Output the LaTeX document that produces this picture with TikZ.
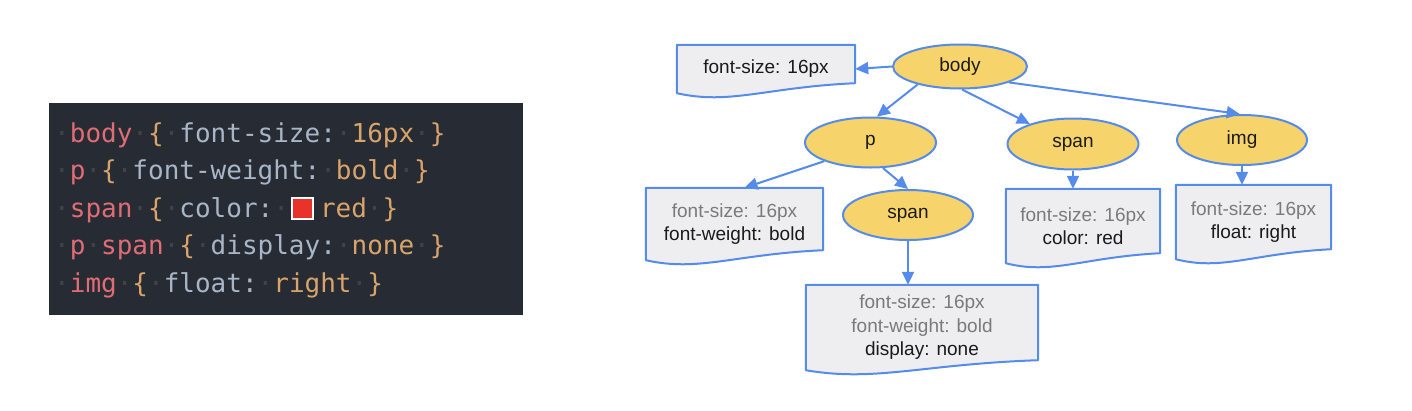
\documentclass[tikz,border=0pt]{standalone}
\usepackage{fontspec}
\setmainfont{Liberation Sans}
\newfontfamily\codefont{DejaVu Sans Mono}
\usetikzlibrary{arrows.meta,calc,backgrounds,shapes.geometric}
\definecolor{treeblue}{HTML}{558BEB}
\definecolor{nodefill}{HTML}{F7D46B}
\definecolor{boxfill}{HTML}{EEEEF0}
\definecolor{inherit}{HTML}{7A7A7A}
\definecolor{owntext}{HTML}{1A1A1A}
\definecolor{codebg}{HTML}{272B33}
\definecolor{selcol}{HTML}{E06C75}
\definecolor{propcol}{HTML}{A9B6C8}
\definecolor{valcol}{HTML}{D9A46A}
\definecolor{dotcol}{HTML}{3E444F}
\definecolor{swatchred}{HTML}{E8322A}
\newcommand\csel[1]{\textcolor{selcol}{#1}}
\newcommand\cprop[1]{\textcolor{propcol}{#1}}
\newcommand\cval[1]{\textcolor{valcol}{#1}}
\newcommand\wsdot{\textcolor{dotcol}{·}}
\newcommand\swatch{\hspace{2pt}\raisebox{-1pt}{\setlength\fboxsep{0pt}\setlength\fboxrule{2pt}%
  \fcolorbox{white}{swatchred}{\makebox[19pt]{\rule{0pt}{19pt}}}}\hspace{6pt}}
\newcommand\inh[1]{\textcolor{inherit}{#1}}
\tikzset{
  elnode/.style={ellipse, draw=treeblue, line width=2pt, fill=nodefill, inner sep=0pt,
    text=owntext, font=\fontsize{19}{23}\selectfont},
  docbox/.style={inner sep=0pt, align=center, text=owntext,
    font=\fontsize{19}{23.5}\selectfont},
  docline/.style={draw=treeblue, line width=2pt, fill=boxfill, line join=round},
  arr/.style={-{Triangle[length=13pt,width=12pt]}, line width=2pt, draw=treeblue},
  codeline/.style={anchor=base west, inner sep=0pt, font=\codefont\fontsize{26}{30}\selectfont}
}
\begin{document}
\begin{tikzpicture}[x=1pt,y=-1pt]
  \useasboundingbox (0,0) rectangle (1412,410);
  % css source
  \node[fill=codebg, minimum width=474pt, minimum height=212pt, inner sep=0pt] (code) at (286,209) {};
  \node[codeline] (line1) at (54,142) {\wsdot\csel{body}\wsdot\cval{\{}\wsdot\cprop{font-size:}\wsdot\cval{16px}\wsdot\cval{\}}};
  \node[codeline] (line2) at (54,179.5) {\wsdot\csel{p}\wsdot\cval{\{}\wsdot\cprop{font-weight:}\wsdot\cval{bold}\wsdot\cval{\}}};
  \node[codeline] (line3) at (54,217) {\wsdot\csel{span}\wsdot\cval{\{}\wsdot\cprop{color:}\wsdot\swatch\cval{red}\wsdot\cval{\}}};
  \node[codeline] (line4) at (54,254.5) {\wsdot\csel{p}\wsdot\csel{span}\wsdot\cval{\{}\wsdot\cprop{display:}\wsdot\cval{none}\wsdot\cval{\}}};
  \node[codeline] (line5) at (54,292) {\wsdot\csel{img}\wsdot\cval{\{}\wsdot\cprop{float:}\wsdot\cval{right}\wsdot\cval{\}}};

  % element tree
  \node[elnode, minimum width=134pt, minimum height=44pt] (body) at (960,66.5) {body};
  \node[elnode, minimum width=131pt, minimum height=50pt] (p) at (870.5,142.5) {p};
  \node[elnode, minimum width=130pt, minimum height=50pt] (pspan) at (908,215) {span};
  \node[elnode, minimum width=131pt, minimum height=51pt] (span) at (1073,144) {span};
  \node[elnode, minimum width=130pt, minimum height=50pt] (img) at (1242,140) {img};

  % computed styles
  \node[docbox, minimum width=178pt, minimum height=48pt] (bodybox) at (766,69) {font-size: 16px};
  \node[docbox, minimum width=177pt, minimum height=72pt] (pbox) at (734.5,224)
    {\inh{font-size: 16px}\\font-weight: bold};
  \node[docbox, minimum width=232pt, minimum height=85pt] (pspanbox) at (922,327.5)
    {\inh{font-size: 16px}\\\inh{font-weight: bold}\\display: none};
  \node[docbox, minimum width=154pt, minimum height=74pt] (spanbox) at (1083,226)
    {\inh{font-size: 16px}\\color: red};
  \node[docbox, minimum width=155pt, minimum height=74pt] (imgbox) at (1253.5,222)
    {\inh{font-size: 16px}\\float: right};
  \begin{scope}[on background layer]
    \foreach \b in {bodybox,pbox,pspanbox,spanbox,imgbox}
      \draw[docline] (\b.south west) -- (\b.north west) -- (\b.north east) -- ([yshift=10pt]\b.south east)
        .. controls ($(\b.south east)!0.5!(\b.south west)+(0,-6)$) and ($(\b.south west)!0.3!(\b.south east)+(0,12)$)
        .. (\b.south west) -- cycle;
  \end{scope}

  \draw[arr] (body.west) -- (bodybox.east);
  \draw[arr] (body.203) -- (p.76);
  \draw[arr] (body.-85) -- (span.155);
  \draw[arr] (body.-18) -- (img.95);
  \draw[arr] (p.202) -- ([xshift=10pt]pbox.north);
  \draw[arr] (p.-64) -- (pspan.north);
  \draw[arr] (pspan.south) -- (pspan.south |- pspanbox.north);
  \draw[arr] (span.south) -- (span.south |- spanbox.north);
  \draw[arr] (img.south) -- (img.south |- imgbox.north);
\end{tikzpicture}
\end{document}
